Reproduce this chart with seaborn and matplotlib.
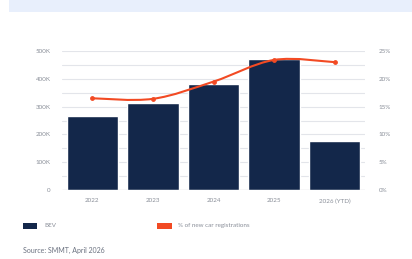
import numpy as np
import pandas as pd
import matplotlib
matplotlib.use('Agg')
import matplotlib.pyplot as plt
import seaborn as sns
from matplotlib.path import Path
from matplotlib.patches import PathPatch, Rectangle
from matplotlib.ticker import FuncFormatter, MultipleLocator

# Data
years = ['2022', '2023', '2024', '2025', '2026 (YTD)']
bev = [267000, 314000, 380000, 470000, 175000]
share = [16.5, 16.4, 19.5, 23.4, 23.0]

navy = '#13274A'
orange = '#F24A23'
grey_txt = '#8A8F99'

sns.set_style('white')
plt.rcParams['font.family'] = ['Lato', 'DejaVu Sans']

df = pd.DataFrame({'Year': years, 'BEV': bev, 'Share': share})

fig = plt.figure(figsize=(4.12, 2.59), dpi=100)
ax = fig.add_axes([0.1505, 0.2664, 0.7355, 0.5366])

# light blue band at the top of the card
fig.patches.append(Rectangle((0.022, 0.955), 0.978, 0.045, transform=fig.transFigure,
                             facecolor='#E8EFFC', edgecolor='none', zorder=0))

sns.barplot(data=df, x='Year', y='BEV', color=navy, width=0.85, saturation=1, ax=ax, zorder=3)
ax.set_xlim(-0.5, 4.5)
ax.set_ylim(0, 500000)
ax.yaxis.set_major_locator(MultipleLocator(100000))
ax.yaxis.set_minor_locator(MultipleLocator(50000))
ax.yaxis.set_major_formatter(FuncFormatter(lambda v, p: '0' if v == 0 else f'{int(v/1000)}K'))
ax.grid(axis='y', which='both', color='#E3E5EA', linewidth=0.8, zorder=0)
ax.set_axisbelow(True)
for s in ax.spines.values():
    s.set_visible(False)
ax.axhline(0, color='#9AA0A8', linewidth=0.8, zorder=4)
ax.set_xlabel('')
ax.set_ylabel('')
ax.tick_params(axis='both', which='both', length=0, labelsize=4.5, labelcolor=grey_txt, pad=6)
ax.tick_params(axis='y', pad=8)

ax2 = ax.twinx()
ax2.set_ylim(0, 25)
ax2.yaxis.set_major_locator(MultipleLocator(5))
ax2.yaxis.set_major_formatter(FuncFormatter(lambda v, p: f'{int(v)}%'))
for s in ax2.spines.values():
    s.set_visible(False)
ax2.tick_params(axis='y', which='both', length=0, labelsize=4.5, labelcolor=grey_txt, pad=10)
ax2.grid(False)

# smoothed line (Catmull-Rom through the points)
xs = np.arange(len(share), dtype=float)
ys = np.array(share, dtype=float)
px = np.concatenate([[xs[0]], xs, [xs[-1]]])
py = np.concatenate([[ys[0]], ys, [ys[-1]]])
verts = [(xs[0], ys[0])]
codes = [Path.MOVETO]
for i in range(1, len(px) - 2):
    c1 = (px[i] + (px[i + 1] - px[i - 1]) / 6, py[i] + (py[i + 1] - py[i - 1]) / 6)
    c2 = (px[i + 1] - (px[i + 2] - px[i]) / 6, py[i + 1] - (py[i + 2] - py[i]) / 6)
    verts += [c1, c2, (px[i + 1], py[i + 1])]
    codes += [Path.CURVE4] * 3
ax2.add_patch(PathPatch(Path(verts, codes), facecolor='none', edgecolor=orange,
                        linewidth=1.5, zorder=5))
ax2.scatter(xs, ys, color=orange, s=6, zorder=6)

# legend
fig.patches.append(Rectangle((0.056, 0.116), 0.034, 0.024, transform=fig.transFigure,
                             facecolor=navy, edgecolor='none'))
fig.text(0.108, 0.128, 'BEV', fontsize=4.5, color=grey_txt, va='center')
fig.patches.append(Rectangle((0.381, 0.116), 0.036, 0.024, transform=fig.transFigure,
                             facecolor=orange, edgecolor='none'))
fig.text(0.432, 0.128, '% of new car registrations', fontsize=4.5, color=grey_txt, va='center')

fig.text(0.056, 0.02, 'Source: SMMT, April 2026', fontsize=5, color='#6B7280', va='bottom')

fig.savefig('out.png', dpi=100)
